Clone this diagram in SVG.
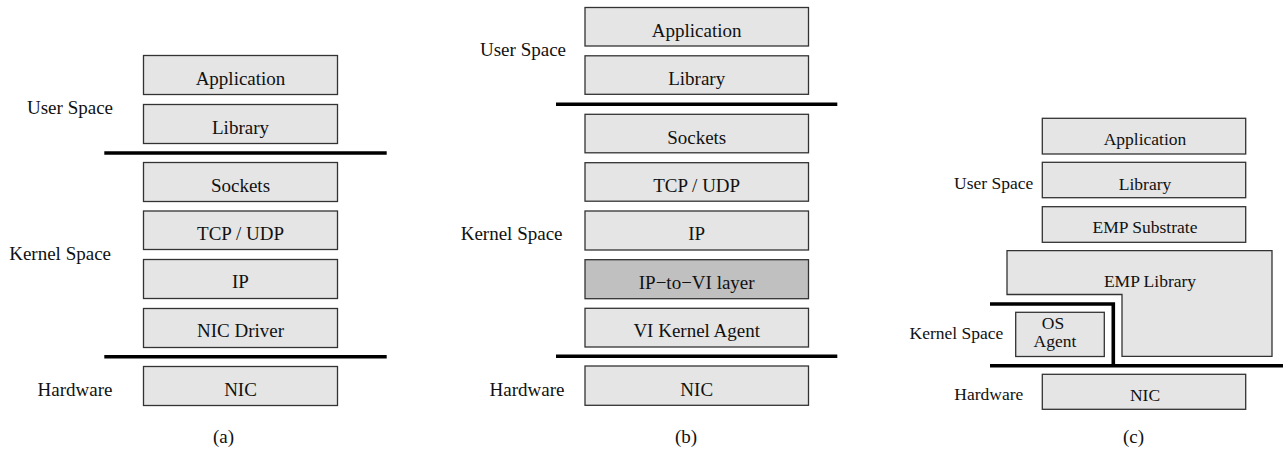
<svg xmlns="http://www.w3.org/2000/svg" width="1283" height="451" viewBox="0 0 1283 451" font-family="'Liberation Serif', 'Times New Roman', serif">
<style>
.box{fill:#e5e5e5;stroke:#333;stroke-width:1.3}
.dark{fill:#c0c0c0}
text{font-family:'Liberation Serif','Times New Roman',serif;fill:#111}
.t{font-size:19px;text-anchor:middle}
.tc{font-size:17.5px;text-anchor:middle}
.lbl{font-size:19px;text-anchor:end}
.lblc{font-size:17.5px;text-anchor:end}
.sep{fill:none;stroke:#000;stroke-width:3.6}
</style>
<rect width="1283" height="451" fill="#fff"/>

<!-- Panel (a) -->
<g id="a-labels">
<text class="lbl" x="113" y="114">User Space</text>
<text class="lbl" x="111" y="260">Kernel Space</text>
<text class="lbl" x="112.5" y="396">Hardware</text>
<text class="t" x="223.5" y="443">(a)</text>
</g>
<g id="a-application"><rect class="box" x="143.5" y="55.5" width="194" height="39"/><text class="t" x="240.5" y="85">Application</text></g>
<g id="a-library"><rect class="box" x="143.5" y="104.5" width="194" height="39"/><text class="t" x="240.5" y="134">Library</text></g>
<g id="a-sockets"><rect class="box" x="143.5" y="162.5" width="194" height="39"/><text class="t" x="240.5" y="191.5">Sockets</text></g>
<g id="a-tcpudp"><rect class="box" x="143.5" y="211" width="194" height="38.5"/><text class="t" x="240.5" y="240">TCP / UDP</text></g>
<g id="a-ip"><rect class="box" x="143.5" y="259.5" width="194" height="39"/><text class="t" x="240.5" y="288">IP</text></g>
<g id="a-nicdriver"><rect class="box" x="143.5" y="308.5" width="194" height="39"/><text class="t" x="240.5" y="337">NIC Driver</text></g>
<g id="a-nic"><rect class="box" x="143.5" y="366.5" width="194" height="39"/><text class="t" x="240.5" y="395.5">NIC</text></g>

<!-- Panel (b) -->
<g id="b-labels">
<text class="lbl" x="566" y="56">User Space</text>
<text class="lbl" x="562.5" y="239.5">Kernel Space</text>
<text class="lbl" x="564.5" y="396">Hardware</text>
<text class="t" x="686" y="443">(b)</text>
</g>
<g id="b-application"><rect class="box" x="585" y="7.5" width="223.5" height="38.5"/><text class="t" x="696.7" y="36.5">Application</text></g>
<g id="b-library"><rect class="box" x="585" y="55.8" width="223.5" height="38.5"/><text class="t" x="696.7" y="85">Library</text></g>
<g id="b-sockets"><rect class="box" x="585" y="114.3" width="223.5" height="38.5"/><text class="t" x="696.7" y="143.5">Sockets</text></g>
<g id="b-tcpudp"><rect class="box" x="585" y="162.7" width="223.5" height="38.5"/><text class="t" x="696.7" y="192">TCP / UDP</text></g>
<g id="b-ip"><rect class="box" x="585" y="211" width="223.5" height="39"/><text class="t" x="696.7" y="240">IP</text></g>
<g id="b-iptovi"><rect class="box dark" x="585" y="259.7" width="223.5" height="39"/><text class="t" x="696.7" y="288.5">IP−to−VI layer</text></g>
<g id="b-vika"><rect class="box" x="585" y="308.3" width="223.5" height="38.7"/><text class="t" x="696.7" y="337">VI Kernel Agent</text></g>
<g id="b-nic"><rect class="box" x="585" y="366" width="223.5" height="39.3"/><text class="t" x="696.7" y="395.5">NIC</text></g>

<!-- Panel (c) -->
<g id="c-labels">
<text class="lblc" x="1033.3" y="189.3">User Space</text>
<text class="lblc" x="1003.3" y="339">Kernel Space</text>
<text class="lblc" x="1023.3" y="400">Hardware</text>
<text class="t" x="1133.5" y="443">(c)</text>
</g>
<g id="c-application"><rect class="box" x="1042.3" y="118.3" width="203.4" height="35.7"/><text class="tc" x="1145" y="145">Application</text></g>
<g id="c-library"><rect class="box" x="1042.3" y="162.3" width="203.4" height="35.4"/><text class="tc" x="1145" y="189.5">Library</text></g>
<g id="c-empsubstrate"><rect class="box" x="1042.3" y="206.7" width="203.4" height="35.6"/><text class="tc" x="1145" y="233.3">EMP Substrate</text></g>
<g id="c-emplibrary"><path class="box" d="M1007,250.7 H1272 V356.3 H1122 V294.5 H1007 Z"/><text class="tc" x="1150" y="286.7">EMP Library</text></g>
<g id="c-osagent"><rect class="box" x="1015.7" y="312.3" width="88.6" height="44.2"/><text class="tc" x="1053" y="328.5">OS</text><text class="tc" x="1055" y="347">Agent</text></g>
<g id="c-nic"><rect class="box" x="1042.3" y="374.3" width="203.4" height="35"/><text class="tc" x="1145" y="400.7">NIC</text></g>

<!-- Separators -->
<g id="connectors">
<line class="sep" x1="104.3" y1="153" x2="386.7" y2="153"/>
<line class="sep" x1="104.3" y1="356.7" x2="386.7" y2="356.7"/>
<line class="sep" x1="556" y1="104.3" x2="837.3" y2="104.3"/>
<line class="sep" x1="556" y1="356.3" x2="837.3" y2="356.3"/>
<polyline class="sep" points="990,304 1113.3,304 1113.3,365.7"/>
<line class="sep" x1="990" y1="365.7" x2="1283" y2="365.7"/>
</g>
</svg>
